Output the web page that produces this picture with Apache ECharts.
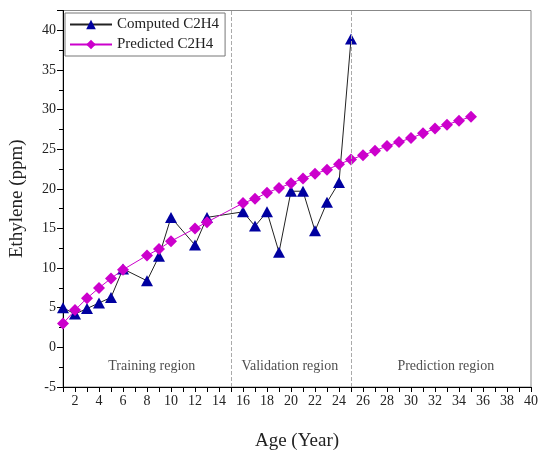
<!DOCTYPE html>
<html>
<head>
<meta charset="utf-8">
<script src="https://cdn.jsdelivr.net/npm/echarts@6/dist/echarts.min.js"></script>
<style>
  html, body { margin: 0; padding: 0; background: #fff; }
  #main { width: 541px; height: 459px; }
</style>
</head>
<body>
<div id="main"></div>
<script>
// age in years
const computedYears = [1, 2, 3, 4, 5, 6, 8, 9, 10, 12, 13, 16, 17, 18, 19, 20, 21, 22, 23, 24, 25];
const computedC2H4 = [5.0, 4.2, 4.9, 5.6, 6.3, 9.9, 8.4, 11.5, 16.4, 12.9, 16.4, 17.1, 15.3, 17.1, 12.0, 19.7, 19.7, 14.7, 18.3, 20.8, 38.9];

const predictedYears = [1, 2, 3, 4, 5, 6, 8, 9, 10, 12, 13, 16, 17, 18, 19, 20, 21, 22, 23, 24, 25, 26, 27, 28, 29, 30, 31, 32, 33, 34, 35];
const predictedC2H4 = [3.0, 4.7, 6.2, 7.5, 8.7, 9.8, 11.6, 12.4, 13.4, 15.0, 15.8, 18.2, 18.75, 19.5, 20.1, 20.7, 21.3, 21.9, 22.4, 23.1, 23.7, 24.25, 24.8, 25.4, 25.9, 26.4, 27.0, 27.6, 28.1, 28.6, 29.1];

const regionBounds = [15, 25];
const regionNames = ["Training region", "Validation region", "Prediction region"];
const regionCenters = [8.4, 19.9, 32.9];

const font = "'Liberation Serif', 'DejaVu Serif', serif";

var myChart = echarts.init(document.getElementById("main"));

var option = {
  animation: false,
  textStyle: { fontFamily: font },
  grid: {
    left: 62,
    right: 9,
    top: 10.5,
    bottom: 72,
    show: true,
    borderColor: "#888",
    borderWidth: 1,
  },
  legend: {
    orient: "vertical",
    left: 65,
    top: 13,
    padding: [4, 6, 4, 4],
    itemGap: 5,
    itemWidth: 42,
    itemHeight: 12,
    borderColor: "#777",
    borderWidth: 1,
    backgroundColor: "#fff",
    textStyle: { fontFamily: font, fontSize: 15, color: "#222" },
    data: ["Computed C2H4", "Predicted C2H4"],
  },
  xAxis: {
    type: "value",
    min: 1,
    max: 40,
    interval: 1,
    name: "Age (Year)",
    nameLocation: "middle",
    nameGap: 45,
    nameTextStyle: { fontFamily: font, fontSize: 19, color: "#222" },
    axisLine: { show: true, onZero: false, lineStyle: { color: "#000", width: 1 } },
    axisTick: { show: true, length: 5, lineStyle: { color: "#000" } },
    axisLabel: {
      fontFamily: font,
      fontSize: 14,
      color: "#222",
      margin: 7,
      formatter: (v) => (v % 2 === 0 ? String(v) : ""),
    },
    splitLine: { show: false },
  },
  yAxis: {
    type: "value",
    min: -5,
    max: 42.5,
    interval: 5,
    name: "Ethylene (ppm)",
    nameLocation: "middle",
    nameGap: 36,
    nameTextStyle: { fontFamily: font, fontSize: 19, color: "#222" },
    axisLine: { show: true, onZero: false, lineStyle: { color: "#000", width: 1 } },
    axisTick: { show: true, length: 6, lineStyle: { color: "#000" } },
    minorTick: { show: true, splitNumber: 2, length: 4, lineStyle: { color: "#000" } },
    axisLabel: {
      fontFamily: font,
      fontSize: 14,
      color: "#222",
      margin: 7,
      formatter: (v) => (v % 5 === 0 ? String(v) : ""),
    },
    splitLine: { show: false },
  },
  series: [
    {
      name: "Computed C2H4",
      type: "line",
      data: computedYears.map((x, i) => [x, computedC2H4[i]]),
      symbol: "triangle",
      symbolSize: [12, 11],
      itemStyle: { color: "#0000a0" },
      lineStyle: { color: "#222", width: 1 },
      z: 3,
      markLine: {
        silent: true,
        symbol: "none",
        label: { show: false },
        lineStyle: { color: "#aaa", type: "dashed", width: 1 },
        data: regionBounds.map((v) => ({ xAxis: v })),
      },
    },
    {
      name: "Predicted C2H4",
      type: "line",
      data: predictedYears.map((x, i) => [x, predictedC2H4[i]]),
      symbol: "diamond",
      symbolSize: 12,
      itemStyle: { color: "#cc00cc" },
      lineStyle: { color: "#cc00cc", width: 1 },
      z: 4,
    },
    {
      name: "regions",
      type: "scatter",
      data: regionCenters.map((x) => [x, -2.4]),
      symbolSize: 0,
      silent: true,
      label: {
        show: true,
        position: "inside",
        fontFamily: font,
        fontSize: 14,
        color: "#222",
        formatter: (p) => regionNames[p.dataIndex],
      },
    },
  ],
};
myChart.setOption(option);
</script>
</body>
</html>
